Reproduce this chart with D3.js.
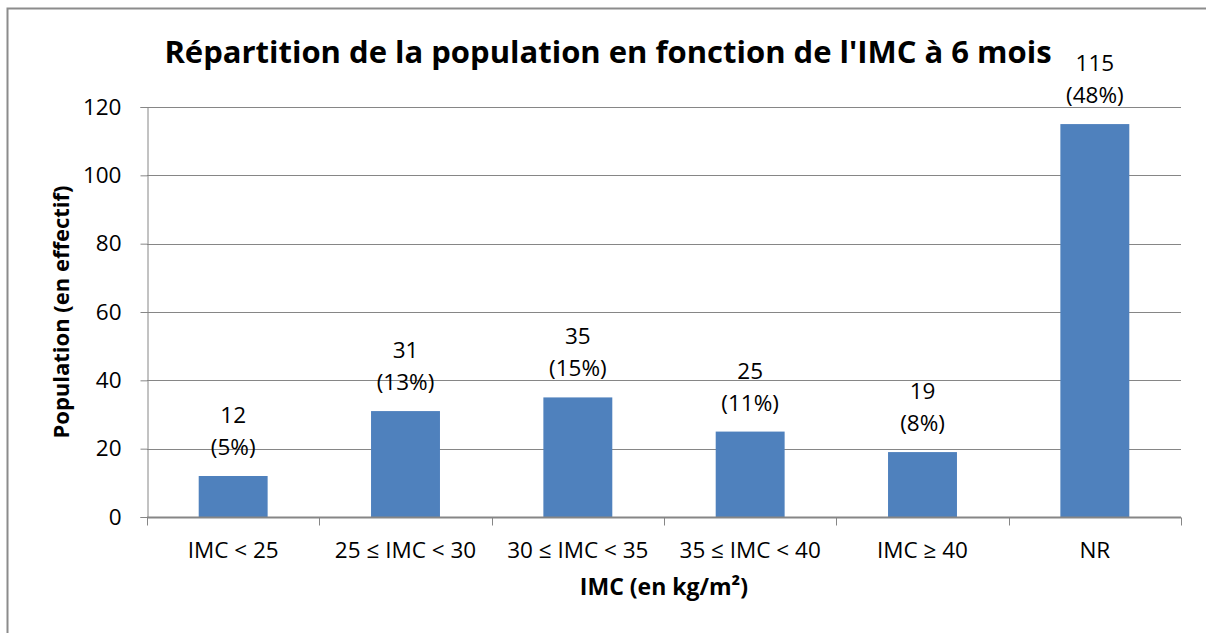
<!DOCTYPE html>
<html>
<head>
<meta charset="utf-8">
<script src="https://cdn.jsdelivr.net/npm/d3@7"></script>
<style>
  body { margin: 0; background: #fff; }
  text { font-family: "Open Sans", sans-serif; fill: #000; }
</style>
</head>
<body>
<script>

    //////////////////////
    // Data
    //////////////////////
    var categories = ["IMC < 25", "25 ≤ IMC < 30", "30 ≤ IMC < 35", "35 ≤ IMC < 40", "IMC ≥ 40", "NR"];
    var counts = [12, 31, 35, 25, 19, 115];
    var percents = ["(5%)", "(13%)", "(15%)", "(11%)", "(8%)", "(48%)"];
    var yTicks = [0, 20, 40, 60, 80, 100, 120];

    //////////////////////
    // Layout
    //////////////////////
    var W = 1206, H = 633;
    var plot = { left: 147, right: 1181, top: 107, bottom: 517 };
    var gridColor = "#868686";
    var barColor = "#4F81BD";
    var labelSize = "22.5px";

    var svg = d3.select("body").append("svg")
        .attr("width", W)
        .attr("height", H);

    // chart border
    svg.append("rect")
        .attr("x", 7.5).attr("y", 8.5)
        .attr("width", W + 10).attr("height", H + 10)
        .attr("fill", "#fff")
        .attr("stroke", "#8c8c8c")
        .attr("stroke-width", 2);

    var x = d3.scaleBand()
        .domain(categories)
        .range([plot.left, plot.right])
        .paddingInner(0.6)
        .paddingOuter(0.3);

    var band = d3.scaleBand()
        .domain(categories)
        .range([plot.left, plot.right]);

    var y = d3.scaleLinear()
        .domain([0, 120])
        .range([plot.bottom, plot.top]);

    // gridlines
    svg.append("g").selectAll("line")
        .data(yTicks.filter(function (d) { return d > 0; }))
        .enter().append("line")
            .attr("x1", plot.left).attr("x2", plot.right)
            .attr("y1", function (d) { return Math.round(y(d)) + 0.5; })
            .attr("y2", function (d) { return Math.round(y(d)) + 0.5; })
            .attr("stroke", gridColor)
            .attr("stroke-width", 1);

    // bars
    svg.append("g").selectAll("rect")
        .data(counts)
        .enter().append("rect")
            .attr("x", function (d, i) { return x(categories[i]); })
            .attr("width", x.bandwidth())
            .attr("y", function (d) { return y(d); })
            .attr("height", function (d) { return plot.bottom - y(d); })
            .attr("fill", barColor);

    // y axis
    var yAxis = svg.append("g")
        .attr("transform", "translate(" + (plot.left + 0.5) + ",0)")
        .call(d3.axisLeft(y).tickValues(yTicks).tickSize(7).tickPadding(19));
    yAxis.select(".domain").attr("stroke", gridColor);
    yAxis.selectAll(".tick line").attr("stroke", gridColor);
    yAxis.selectAll(".tick text")
        .style("font-size", labelSize)
        .attr("fill", "#000");

    // x axis
    var xAxisG = svg.append("g")
        .attr("transform", "translate(0," + (plot.bottom + 0.5) + ")");
    xAxisG.append("line")
        .attr("x1", plot.left).attr("x2", plot.right)
        .attr("stroke", gridColor).attr("stroke-width", 2);
    var boundaries = categories.map(function (c) { return band(c); }).concat([plot.right]);
    xAxisG.selectAll(".xt")
        .data(boundaries)
        .enter().append("line")
            .attr("class", "xt")
            .attr("x1", function (d) { return Math.round(d) + 0.5; })
            .attr("x2", function (d) { return Math.round(d) + 0.5; })
            .attr("y1", 0).attr("y2", 8)
            .attr("stroke", gridColor);
    xAxisG.selectAll(".xl")
        .data(categories)
        .enter().append("text")
            .attr("class", "xl")
            .attr("x", function (d) { return band(d) + band.bandwidth() / 2; })
            .attr("y", 40)
            .attr("text-anchor", "middle")
            .style("font-size", labelSize)
            .text(function (d) { return d; });

    // data labels
    var labels = svg.append("g").selectAll("g")
        .data(counts)
        .enter().append("g")
            .attr("transform", function (d, i) {
                return "translate(" + (x(categories[i]) + x.bandwidth() / 2) + "," + y(d) + ")";
            });
    labels.append("text")
        .attr("y", -53)
        .attr("text-anchor", "middle")
        .style("font-size", labelSize)
        .text(function (d) { return d; });
    labels.append("text")
        .attr("y", -21)
        .attr("text-anchor", "middle")
        .style("font-size", labelSize)
        .text(function (d, i) { return percents[i]; });

    // title
    svg.append("text")
        .attr("x", 608).attr("y", 63)
        .attr("text-anchor", "middle")
        .style("font-size", "31px")
        .style("font-weight", "bold")
        .text("Répartition de la population en fonction de l'IMC à 6 mois");

    // axis titles
    svg.append("text")
        .attr("x", (plot.left + plot.right) / 2).attr("y", 595)
        .attr("text-anchor", "middle")
        .style("font-size", "23px")
        .style("font-weight", "bold")
        .text("IMC (en kg/m²)");

    svg.append("text")
        .attr("transform", "translate(69," + (plot.top + plot.bottom) / 2 + ") rotate(-90)")
        .attr("text-anchor", "middle")
        .style("font-size", "22px")
        .style("font-weight", "bold")
        .text("Population (en effectif)");

</script>
</body>
</html>
